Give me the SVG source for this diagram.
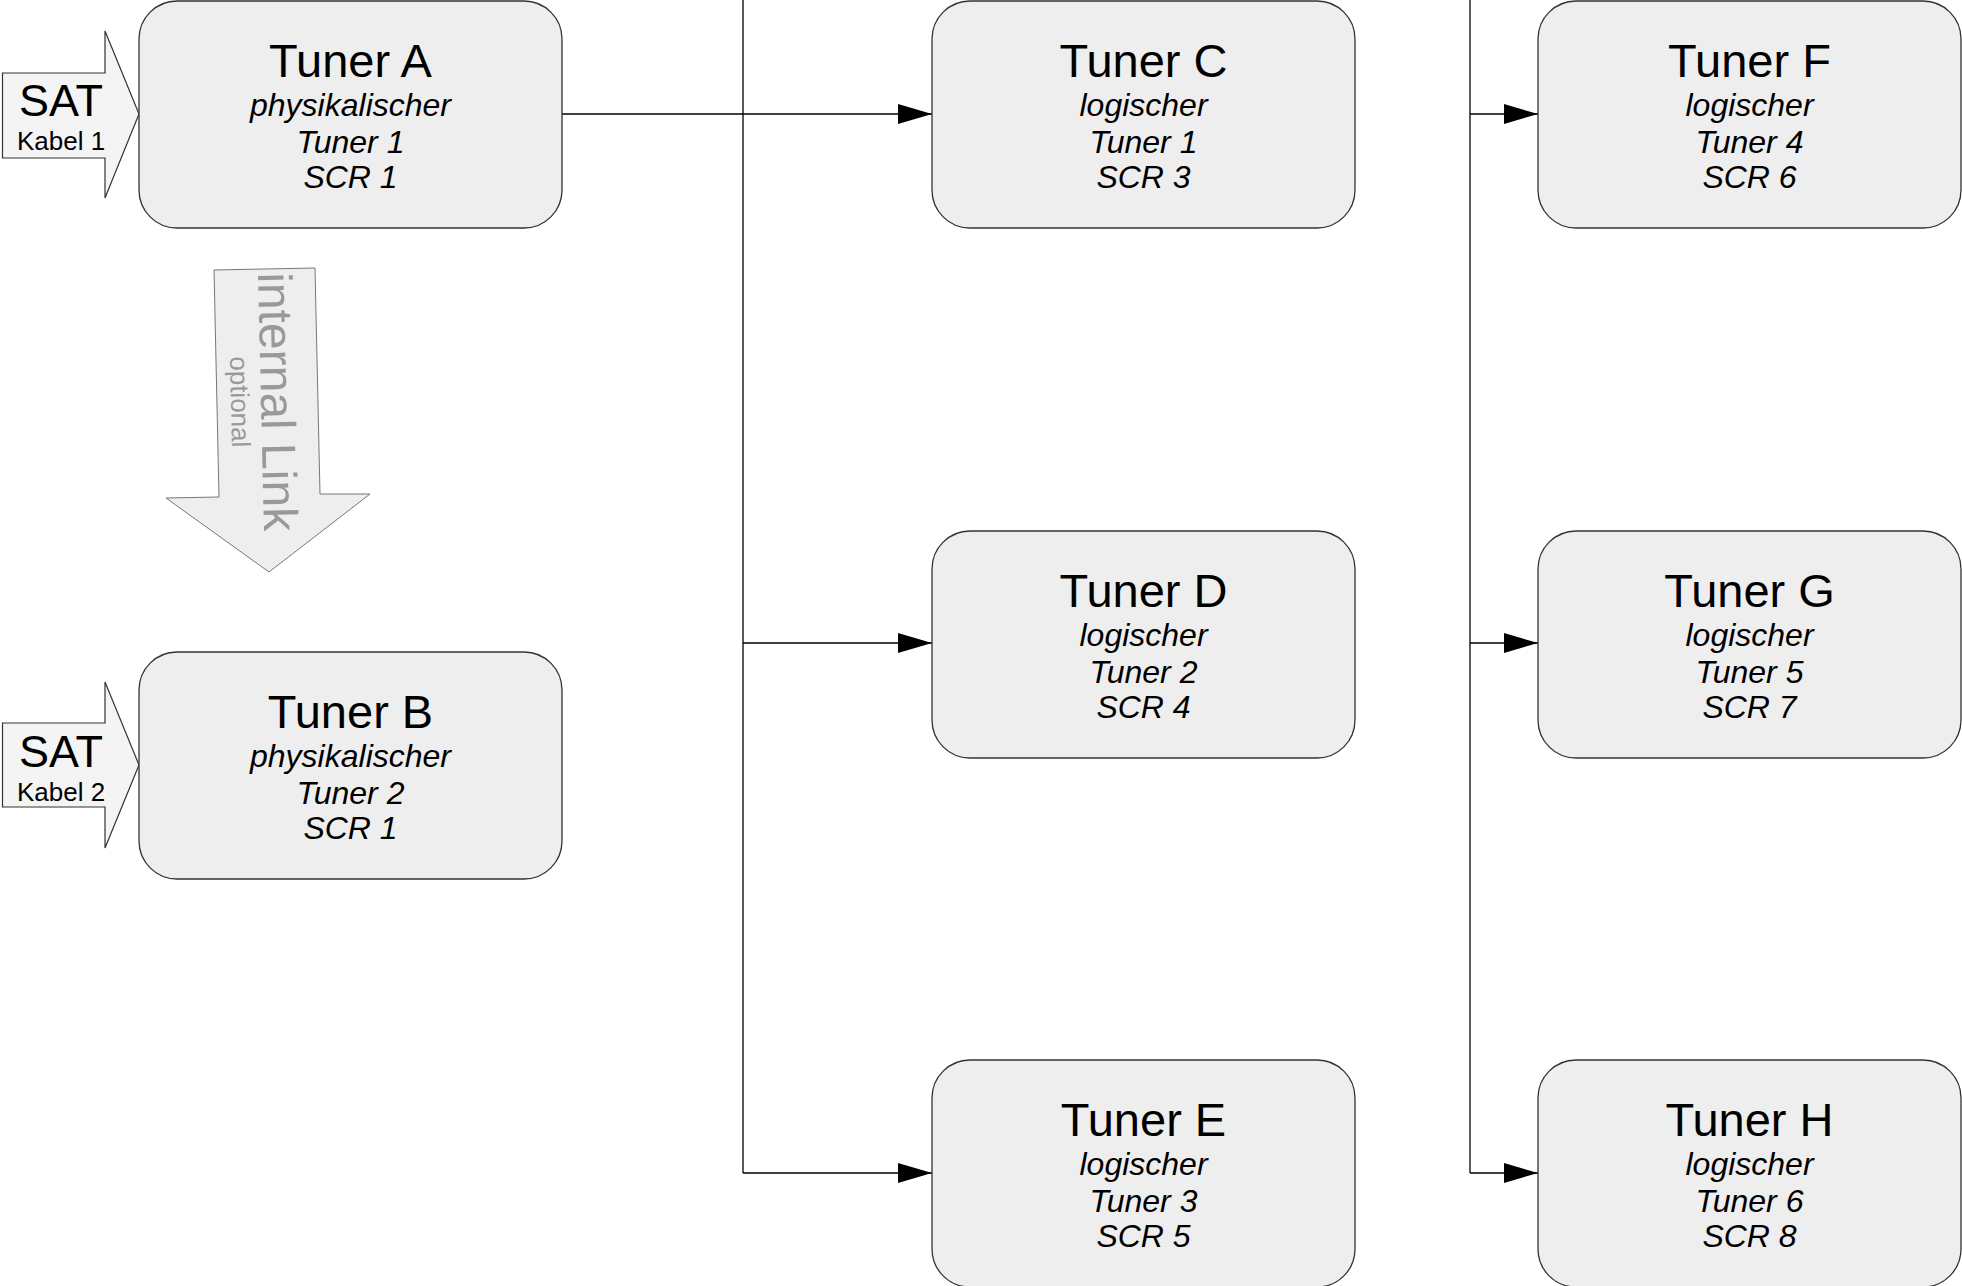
<svg xmlns="http://www.w3.org/2000/svg" width="1962" height="1286" viewBox="0 0 1962 1286">
<style>
.box{fill:#eeeeee;stroke:#333333;stroke-width:1.3}
.title{font-family:"Liberation Sans",Arial,sans-serif;font-size:47px;fill:#000;text-anchor:middle}
.sub{font-family:"Liberation Sans",Arial,sans-serif;font-size:32px;font-style:italic;fill:#000;text-anchor:middle}
.sat{fill:#f4f4f4;stroke:#333333;stroke-width:1.2}
.satbig{font-family:"Liberation Sans",Arial,sans-serif;font-size:45px;fill:#000;text-anchor:middle}
.satsm{font-family:"Liberation Sans",Arial,sans-serif;font-size:26px;fill:#000;text-anchor:middle}
.conn{fill:none;stroke:#000;stroke-width:1.3}
.link{fill:#eeeeee;stroke:#777777;stroke-width:1}
.linkt{font-family:"Liberation Sans",Arial,sans-serif;fill:#999999;text-anchor:middle}
</style>
<defs>
<marker id="ah" markerUnits="userSpaceOnUse" markerWidth="34" markerHeight="20" refX="34" refY="10" orient="auto">
<path d="M0,0 L34,10 L0,20 z" fill="#000"/>
</marker>
</defs>
<rect width="1962" height="1286" fill="#ffffff"/>

<g id="connectors">
<path class="conn" d="M562,114 H932" marker-end="url(#ah)"/>
<path class="conn" d="M743,0 V1173"/>
<path class="conn" d="M743,643 H932" marker-end="url(#ah)"/>
<path class="conn" d="M743,1173 H932" marker-end="url(#ah)"/>
<path class="conn" d="M1470,0 V1173"/>
<path class="conn" d="M1470,114 H1538" marker-end="url(#ah)"/>
<path class="conn" d="M1470,643 H1538" marker-end="url(#ah)"/>
<path class="conn" d="M1470,1173 H1538" marker-end="url(#ah)"/>
</g>

<g id="sat1">
<path class="sat" d="M2.5,73 H105 V31 L139,114 L105,198 V158 H2.5 Z"/>
<text class="satbig" x="61" y="116">SAT</text>
<text class="satsm" x="61" y="150">Kabel 1</text>
</g>

<g id="sat2">
<path class="sat" d="M2.5,723 H105 V682 L139,765 L105,848 V807 H2.5 Z"/>
<text class="satbig" x="61" y="767">SAT</text>
<text class="satsm" x="61" y="801">Kabel 2</text>
</g>

<g id="internal-link">
<path class="link" d="M214,270 L315,268 L320,494 L370,494 L269,572 L166,498 L219,497 Z"/>
<text class="linkt" font-size="48" transform="translate(261,402) rotate(88.7)">internal Link</text>
<text class="linkt" font-size="26" transform="translate(231,402) rotate(88.7)">optional</text>
</g>

<g id="tunerA">
<rect class="box" x="139" y="1" width="423" height="227" rx="38"/>
<text class="title" x="350.5" y="77">Tuner A</text>
<text class="sub" x="350.5" y="116">physikalischer</text>
<text class="sub" x="350.5" y="153">Tuner 1</text>
<text class="sub" x="350.5" y="188">SCR 1</text>
</g>

<g id="tunerB">
<rect class="box" x="139" y="652" width="423" height="227" rx="38"/>
<text class="title" x="350.5" y="728">Tuner B</text>
<text class="sub" x="350.5" y="767">physikalischer</text>
<text class="sub" x="350.5" y="804">Tuner 2</text>
<text class="sub" x="350.5" y="839">SCR 1</text>
</g>

<g id="tunerC">
<rect class="box" x="932" y="1" width="423" height="227" rx="38"/>
<text class="title" x="1143.5" y="77">Tuner C</text>
<text class="sub" x="1143.5" y="116">logischer</text>
<text class="sub" x="1143.5" y="153">Tuner 1</text>
<text class="sub" x="1143.5" y="188">SCR 3</text>
</g>

<g id="tunerD">
<rect class="box" x="932" y="531" width="423" height="227" rx="38"/>
<text class="title" x="1143.5" y="607">Tuner D</text>
<text class="sub" x="1143.5" y="646">logischer</text>
<text class="sub" x="1143.5" y="683">Tuner 2</text>
<text class="sub" x="1143.5" y="718">SCR 4</text>
</g>

<g id="tunerE">
<rect class="box" x="932" y="1060" width="423" height="227" rx="38"/>
<text class="title" x="1143.5" y="1136">Tuner E</text>
<text class="sub" x="1143.5" y="1175">logischer</text>
<text class="sub" x="1143.5" y="1212">Tuner 3</text>
<text class="sub" x="1143.5" y="1247">SCR 5</text>
</g>

<g id="tunerF">
<rect class="box" x="1538" y="1" width="423" height="227" rx="38"/>
<text class="title" x="1749.5" y="77">Tuner F</text>
<text class="sub" x="1749.5" y="116">logischer</text>
<text class="sub" x="1749.5" y="153">Tuner 4</text>
<text class="sub" x="1749.5" y="188">SCR 6</text>
</g>

<g id="tunerG">
<rect class="box" x="1538" y="531" width="423" height="227" rx="38"/>
<text class="title" x="1749.5" y="607">Tuner G</text>
<text class="sub" x="1749.5" y="646">logischer</text>
<text class="sub" x="1749.5" y="683">Tuner 5</text>
<text class="sub" x="1749.5" y="718">SCR 7</text>
</g>

<g id="tunerH">
<rect class="box" x="1538" y="1060" width="423" height="227" rx="38"/>
<text class="title" x="1749.5" y="1136">Tuner H</text>
<text class="sub" x="1749.5" y="1175">logischer</text>
<text class="sub" x="1749.5" y="1212">Tuner 6</text>
<text class="sub" x="1749.5" y="1247">SCR 8</text>
</g>
</svg>
